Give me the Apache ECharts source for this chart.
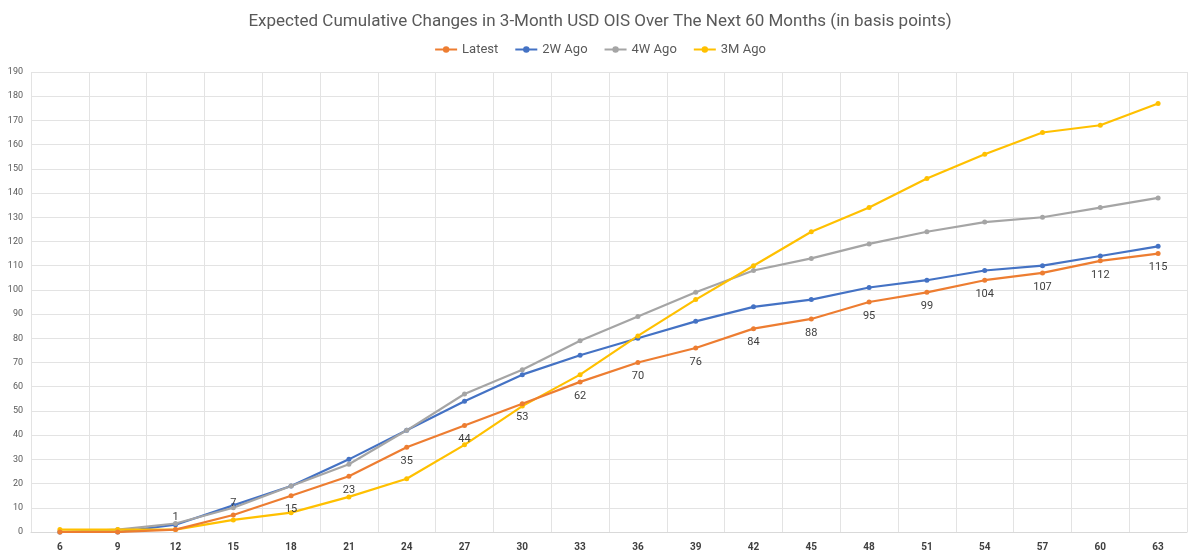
<!DOCTYPE html>
<html><head><meta charset="utf-8">
<script src="https://cdn.jsdelivr.net/npm/echarts@6/dist/echarts.min.js"></script>
<style>html,body{margin:0;padding:0;background:#fff}#c{width:1200px;height:559px}</style>
</head><body><div id="c"></div>
<script>
const categories = ['6','9','12','15','18','21','24','27','30','33','36','39','42','45','48','51','54','57','60','63'];
const latest = [0,0,1,7,15,23,35,44,53,62,70,76,84,88,95,99,104,107,112,115];
const ago2w = [0,0,3,11,19,30,42,54,65,73,80,87,93,96,101,104,108,110,114,118];
const ago4w = [0,1,3.5,10,19,28,42,57,67,79,89,99,108,113,119,124,128,130,134,138];
const ago3m = [1,1,1,5,8,14.5,22,36,52,65,81,96,110,124,134,146,156,165,168,177];
const yTicks = {min:0, max:190, interval:10};

const chart = echarts.init(document.getElementById('c'));
function s(name, data, color){
  return {name, type:'line', data, symbol:'circle', symbolSize:5,
    lineStyle:{width:2.2,color}, itemStyle:{color}, label:{show:false}, z:3};
}
const latestData = latest.map((v,i)=>{
  if (i<2) return {value:v, label:{show:false}};
  if (i<4) return {value:v, label:{show:true, position:'top', distance:4}};
  return v;
});
const latestSeries = s('Latest', latestData, '#ed7d31');
latestSeries.label = {show:true, position:'bottom', distance:6, color:'#404040', fontSize:11};
latestSeries.z = 5;
chart.setOption({
  textStyle:{fontFamily:'Roboto, sans-serif'},
  title:{text:'Expected Cumulative Changes in 3-Month USD OIS Over The Next 60 Months (in basis points)',
    left:'center', top:8, textStyle:{fontSize:17, fontWeight:'normal', color:'#595959'}},
  legend:{top:38, itemWidth:22, itemHeight:8, itemGap:16, textStyle:{color:'#595959', fontSize:13},
    data:['Latest','2W Ago','4W Ago','3M Ago']},
  grid:{left:31, right:13, top:72, bottom:27},
  xAxis:{type:'category', data:categories, boundaryGap:true,
    axisLine:{lineStyle:{color:'#d9d9d9'}}, axisTick:{show:false},
    axisLabel:{color:'#404040', fontSize:10, fontWeight:'bold', margin:10},
    splitLine:{show:true, lineStyle:{color:'#e3e3e3'}}},
  yAxis:{type:'value', min:yTicks.min, max:yTicks.max, interval:yTicks.interval,
    axisLabel:{color:'#595959', fontSize:9}, axisLine:{show:false},
    splitLine:{lineStyle:{color:'#e3e3e3'}}},
  series:[
    latestSeries,
    s('2W Ago', ago2w, '#4472c4'),
    s('4W Ago', ago4w, '#a5a5a5'),
    s('3M Ago', ago3m, '#ffc000')
  ]
});
</script></body></html>
